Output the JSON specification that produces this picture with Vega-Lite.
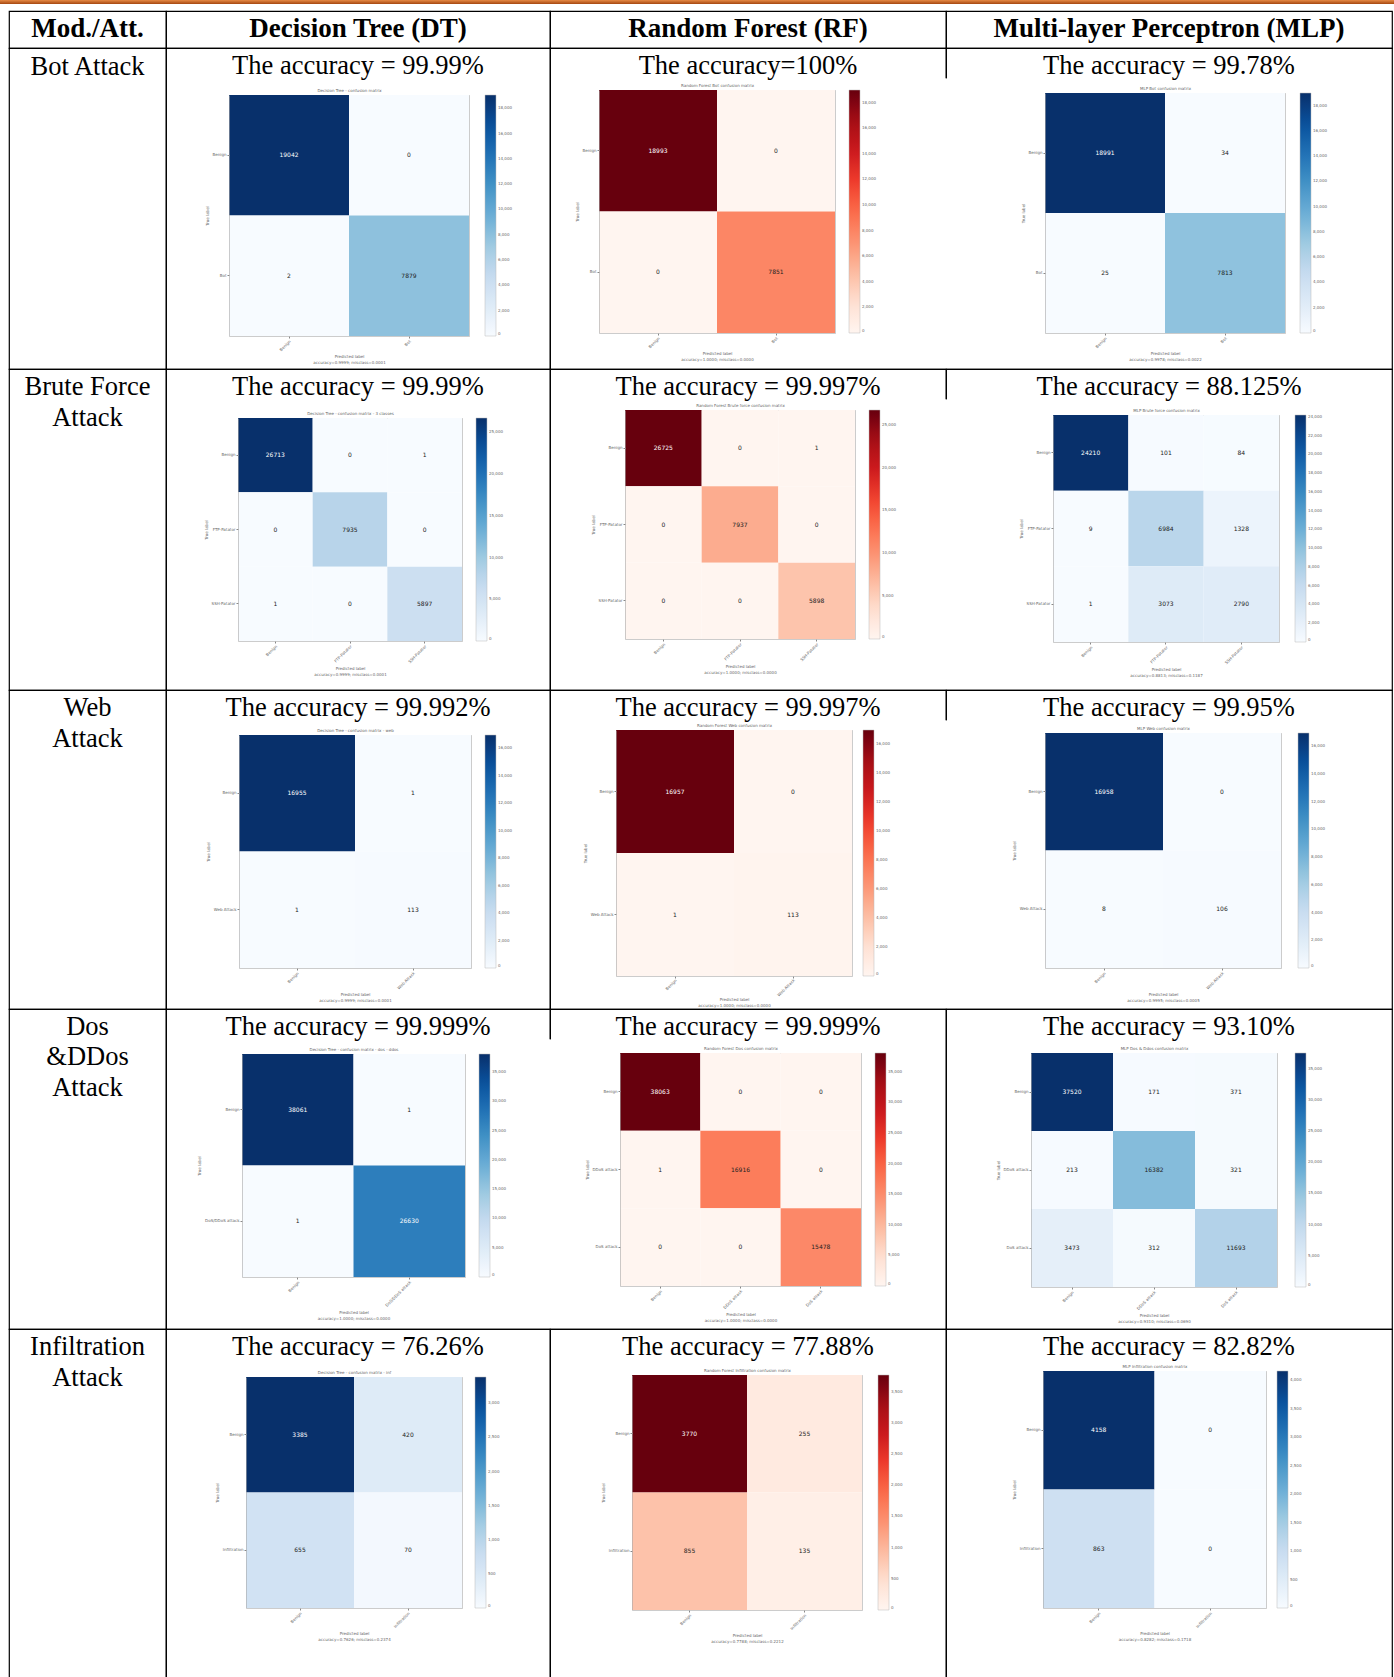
{
  "$schema": "https://vega.github.io/schema/vega-lite/v6.json",
  "padding": 0,
  "background": "white",
  "datasets": {
    "cm": [
      {"m":"DT","a":"bot","t":"Benign","p":"Benign","n":19042},
      {"m":"DT","a":"bot","t":"Benign","p":"Bot","n":0},
      {"m":"DT","a":"bot","t":"Bot","p":"Benign","n":2},
      {"m":"DT","a":"bot","t":"Bot","p":"Bot","n":7879},
      {"m":"RF","a":"bot","t":"Benign","p":"Benign","n":18993},
      {"m":"RF","a":"bot","t":"Benign","p":"Bot","n":0},
      {"m":"RF","a":"bot","t":"Bot","p":"Benign","n":0},
      {"m":"RF","a":"bot","t":"Bot","p":"Bot","n":7851},
      {"m":"MLP","a":"bot","t":"Benign","p":"Benign","n":18991},
      {"m":"MLP","a":"bot","t":"Benign","p":"Bot","n":34},
      {"m":"MLP","a":"bot","t":"Bot","p":"Benign","n":25},
      {"m":"MLP","a":"bot","t":"Bot","p":"Bot","n":7813},
      {"m":"DT","a":"brute","t":"Benign","p":"Benign","n":26713},
      {"m":"DT","a":"brute","t":"Benign","p":"FTP-Patator","n":0},
      {"m":"DT","a":"brute","t":"Benign","p":"SSH-Patator","n":1},
      {"m":"DT","a":"brute","t":"FTP-Patator","p":"Benign","n":0},
      {"m":"DT","a":"brute","t":"FTP-Patator","p":"FTP-Patator","n":7935},
      {"m":"DT","a":"brute","t":"FTP-Patator","p":"SSH-Patator","n":0},
      {"m":"DT","a":"brute","t":"SSH-Patator","p":"Benign","n":1},
      {"m":"DT","a":"brute","t":"SSH-Patator","p":"FTP-Patator","n":0},
      {"m":"DT","a":"brute","t":"SSH-Patator","p":"SSH-Patator","n":5897},
      {"m":"RF","a":"brute","t":"Benign","p":"Benign","n":26725},
      {"m":"RF","a":"brute","t":"Benign","p":"FTP-Patator","n":0},
      {"m":"RF","a":"brute","t":"Benign","p":"SSH-Patator","n":1},
      {"m":"RF","a":"brute","t":"FTP-Patator","p":"Benign","n":0},
      {"m":"RF","a":"brute","t":"FTP-Patator","p":"FTP-Patator","n":7937},
      {"m":"RF","a":"brute","t":"FTP-Patator","p":"SSH-Patator","n":0},
      {"m":"RF","a":"brute","t":"SSH-Patator","p":"Benign","n":0},
      {"m":"RF","a":"brute","t":"SSH-Patator","p":"FTP-Patator","n":0},
      {"m":"RF","a":"brute","t":"SSH-Patator","p":"SSH-Patator","n":5898},
      {"m":"MLP","a":"brute","t":"Benign","p":"Benign","n":24210},
      {"m":"MLP","a":"brute","t":"Benign","p":"FTP-Patator","n":101},
      {"m":"MLP","a":"brute","t":"Benign","p":"SSH-Patator","n":84},
      {"m":"MLP","a":"brute","t":"FTP-Patator","p":"Benign","n":9},
      {"m":"MLP","a":"brute","t":"FTP-Patator","p":"FTP-Patator","n":6984},
      {"m":"MLP","a":"brute","t":"FTP-Patator","p":"SSH-Patator","n":1328},
      {"m":"MLP","a":"brute","t":"SSH-Patator","p":"Benign","n":1},
      {"m":"MLP","a":"brute","t":"SSH-Patator","p":"FTP-Patator","n":3073},
      {"m":"MLP","a":"brute","t":"SSH-Patator","p":"SSH-Patator","n":2790},
      {"m":"DT","a":"web","t":"Benign","p":"Benign","n":16955},
      {"m":"DT","a":"web","t":"Benign","p":"Web Attack","n":1},
      {"m":"DT","a":"web","t":"Web Attack","p":"Benign","n":1},
      {"m":"DT","a":"web","t":"Web Attack","p":"Web Attack","n":113},
      {"m":"RF","a":"web","t":"Benign","p":"Benign","n":16957},
      {"m":"RF","a":"web","t":"Benign","p":"Web Attack","n":0},
      {"m":"RF","a":"web","t":"Web Attack","p":"Benign","n":1},
      {"m":"RF","a":"web","t":"Web Attack","p":"Web Attack","n":113},
      {"m":"MLP","a":"web","t":"Benign","p":"Benign","n":16958},
      {"m":"MLP","a":"web","t":"Benign","p":"Web Attack","n":0},
      {"m":"MLP","a":"web","t":"Web Attack","p":"Benign","n":8},
      {"m":"MLP","a":"web","t":"Web Attack","p":"Web Attack","n":106},
      {"m":"DT","a":"dos","t":"Benign","p":"Benign","n":38061},
      {"m":"DT","a":"dos","t":"Benign","p":"DoS/DDoS attack","n":1},
      {"m":"DT","a":"dos","t":"DoS/DDoS attack","p":"Benign","n":1},
      {"m":"DT","a":"dos","t":"DoS/DDoS attack","p":"DoS/DDoS attack","n":26630},
      {"m":"RF","a":"dos","t":"Benign","p":"Benign","n":38063},
      {"m":"RF","a":"dos","t":"Benign","p":"DDoS attack","n":0},
      {"m":"RF","a":"dos","t":"Benign","p":"DoS attack","n":0},
      {"m":"RF","a":"dos","t":"DDoS attack","p":"Benign","n":1},
      {"m":"RF","a":"dos","t":"DDoS attack","p":"DDoS attack","n":16916},
      {"m":"RF","a":"dos","t":"DDoS attack","p":"DoS attack","n":0},
      {"m":"RF","a":"dos","t":"DoS attack","p":"Benign","n":0},
      {"m":"RF","a":"dos","t":"DoS attack","p":"DDoS attack","n":0},
      {"m":"RF","a":"dos","t":"DoS attack","p":"DoS attack","n":15478},
      {"m":"MLP","a":"dos","t":"Benign","p":"Benign","n":37520},
      {"m":"MLP","a":"dos","t":"Benign","p":"DDoS attack","n":171},
      {"m":"MLP","a":"dos","t":"Benign","p":"DoS attack","n":371},
      {"m":"MLP","a":"dos","t":"DDoS attack","p":"Benign","n":213},
      {"m":"MLP","a":"dos","t":"DDoS attack","p":"DDoS attack","n":16382},
      {"m":"MLP","a":"dos","t":"DDoS attack","p":"DoS attack","n":321},
      {"m":"MLP","a":"dos","t":"DoS attack","p":"Benign","n":3473},
      {"m":"MLP","a":"dos","t":"DoS attack","p":"DDoS attack","n":312},
      {"m":"MLP","a":"dos","t":"DoS attack","p":"DoS attack","n":11693},
      {"m":"DT","a":"inf","t":"Benign","p":"Benign","n":3385},
      {"m":"DT","a":"inf","t":"Benign","p":"Infiltration","n":420},
      {"m":"DT","a":"inf","t":"Infiltration","p":"Benign","n":655},
      {"m":"DT","a":"inf","t":"Infiltration","p":"Infiltration","n":70},
      {"m":"RF","a":"inf","t":"Benign","p":"Benign","n":3770},
      {"m":"RF","a":"inf","t":"Benign","p":"Infiltration","n":255},
      {"m":"RF","a":"inf","t":"Infiltration","p":"Benign","n":855},
      {"m":"RF","a":"inf","t":"Infiltration","p":"Infiltration","n":135},
      {"m":"MLP","a":"inf","t":"Benign","p":"Benign","n":4158},
      {"m":"MLP","a":"inf","t":"Benign","p":"Infiltration","n":0},
      {"m":"MLP","a":"inf","t":"Infiltration","p":"Benign","n":863},
      {"m":"MLP","a":"inf","t":"Infiltration","p":"Infiltration","n":0}
    ]
  },
  "data": {"name": "cm"},
  "config": {
    "view": {"stroke": "black", "strokeWidth": 1.2},
    "title": {"font": "Liberation Serif", "fontSize": 26.5, "fontWeight": "normal", "color": "black", "anchor": "middle", "frame": "group", "offset": -31},
    "axis": {"labelFont": "DejaVu Sans", "labelFontSize": 4, "labelColor": "#666", "titleFont": "DejaVu Sans", "titleFontSize": 4, "titleColor": "#666", "titleFontWeight": "normal", "tickSize": 2, "tickColor": "#888", "domainColor": "#aaa", "domainWidth": 0.6, "labelPadding": 1, "titlePadding": 3, "grid": false, "labelLimit": 100},
    "axisX": {"labelAngle": -45},
    "legend": {"orient": "none", "direction": "vertical", "gradientThickness": 11, "labelFont": "DejaVu Sans", "labelFontSize": 4, "labelColor": "#666", "labelOffset": 3, "gradientStrokeColor": "#bbb", "gradientStrokeWidth": 0.5, "tickCount": 8, "padding": 0},
    "text": {"font": "DejaVu Sans", "fontSize": 6}
  },
  "spacing": 7,
  "bounds": "flush",
  "resolve": {"scale": {"color": "independent"}, "legend": {"color": "independent"}},
  "vconcat": [
    {
      "data": {"values": [{}]},
      "width": 1394, "height": 4,
      "view": {"stroke": null},
      "mark": {"type": "rect", "fill": {"gradient": "linear", "x1": 0, "y1": 0, "x2": 0, "y2": 1, "stops": [{"offset": 0, "color": "#E68A45"}, {"offset": 1, "color": "#A5470F"}]}}
    },
    {
      "spacing": 0,
      "bounds": "flush",
      "resolve": {"scale": {"color": "independent"}, "legend": {"color": "independent"}},
      "hconcat": [
        {"data": {"values": [{}]}, "width": 9, "height": 20, "view": {"stroke": null}, "mark": {"type": "rect", "opacity": 0}},
        {
          "columns": 4,
          "spacing": 0,
          "bounds": "flush",
          "align": "each",
          "resolve": {"scale": {"color": "independent"}, "legend": {"color": "independent"}},
          "concat": [
            {"data": {"values": [{}]}, "width": 157, "height": 37, "title": {"text": "Mod./Att.", "fontWeight": "bold", "fontSize": 27, "offset": -35},
             "layer": [{"mark": {"type": "rect", "opacity": 0}}, {"mark": {"type": "point", "opacity": 0}, "encoding": {"x": {"datum": 0, "type": "quantitative", "axis": null}, "y": {"datum": 0, "type": "quantitative", "axis": null}}}]},
            {"data": {"values": [{}]}, "width": 384, "height": 37, "title": {"text": "Decision Tree (DT)", "fontWeight": "bold", "fontSize": 27, "offset": -35},
             "layer": [{"mark": {"type": "rect", "opacity": 0}}, {"mark": {"type": "point", "opacity": 0}, "encoding": {"x": {"datum": 0, "type": "quantitative", "axis": null}, "y": {"datum": 0, "type": "quantitative", "axis": null}}}]},
            {"data": {"values": [{}]}, "width": 396, "height": 37, "title": {"text": "Random Forest (RF)", "fontWeight": "bold", "fontSize": 27, "offset": -35},
             "layer": [{"mark": {"type": "rect", "opacity": 0}}, {"mark": {"type": "point", "opacity": 0}, "encoding": {"x": {"datum": 0, "type": "quantitative", "axis": null}, "y": {"datum": 0, "type": "quantitative", "axis": null}}}]},
            {"data": {"values": [{}]}, "width": 446, "height": 37, "title": {"text": "Multi-layer Perceptron (MLP)", "fontWeight": "bold", "fontSize": 27, "offset": -35},
             "layer": [{"mark": {"type": "rect", "opacity": 0}}, {"mark": {"type": "point", "opacity": 0}, "encoding": {"x": {"datum": 0, "type": "quantitative", "axis": null}, "y": {"datum": 0, "type": "quantitative", "axis": null}}}]},

            {"data": {"values": [{}]}, "width": 157, "height": 321, "title": {"text": "Bot Attack", "offset": -35},
             "layer": [{"mark": {"type": "rect", "opacity": 0}}, {"mark": {"type": "point", "opacity": 0}, "encoding": {"x": {"datum": 0, "type": "quantitative", "axis": null}, "y": {"datum": 0, "type": "quantitative", "axis": null}}}]},
            {
              "width": 384, "height": 321,
              "title": {"text": "The accuracy = 99.99%"},
              "transform": [{"filter": "datum.a == 'bot' && datum.m == 'DT'"}],
              "layer": [
                {"data": {"values": [{}]}, "mark": {"type": "rect", "opacity": 0}},
                {"mark": "rect", "encoding": {
                  "x": {"field": "p", "type": "nominal", "sort": ["Benign", "Bot"], "scale": {"range": [63, 303], "paddingInner": 0, "paddingOuter": 0}, "axis": {"orient": "bottom", "offset": -33, "title": ["Predicted label", "accuracy=0.9999; misclass=0.0001"]}},
                  "y": {"field": "t", "type": "nominal", "sort": ["Benign", "Bot"], "scale": {"range": [47, 288], "paddingInner": 0, "paddingOuter": 0}, "axis": {"orient": "left", "offset": -63, "title": "True label"}},
                  "color": {"field": "n", "type": "quantitative", "scale": {"domain": [0, 2380, 4761, 7141, 9521, 11901, 14282, 16662, 19042], "range": ["#f7fbff","#deebf7","#c6dbef","#9ecae1","#6baed6","#4292c6","#2171b5","#08519c","#08306b"]}, "legend": {"title": null, "legendX": 319, "legendY": 47, "gradientLength": 241}}
                }},
                {"mark": "text", "encoding": {
                  "x": {"field": "p", "type": "nominal", "sort": ["Benign", "Bot"], "axis": {"orient": "top", "offset": -47, "labels": false, "ticks": false, "title": "Decision Tree - confusion matrix"}},
                  "y": {"field": "t", "type": "nominal", "sort": ["Benign", "Bot"], "axis": {"orient": "right", "offset": -81, "labels": false, "ticks": false, "title": null}},
                  "text": {"field": "n", "type": "quantitative", "format": "d"},
                  "color": {"condition": {"test": "datum.n > 9521", "value": "white"}, "value": "#222"}
                }}
              ]
            },
            {
              "width": 396, "height": 321,
              "view": {"strokeDash": [426, 291, 717]},
              "title": {"text": "The accuracy=100%"},
              "transform": [{"filter": "datum.a == 'bot' && datum.m == 'RF'"}],
              "layer": [
                {"data": {"values": [{}]}, "mark": {"type": "rect", "opacity": 0}},
                {"mark": "rect", "encoding": {
                  "x": {"field": "p", "type": "nominal", "sort": ["Benign", "Bot"], "scale": {"range": [49, 285], "paddingInner": 0, "paddingOuter": 0}, "axis": {"orient": "bottom", "offset": -36, "title": ["Predicted label", "accuracy=1.0000; misclass=0.0000"]}},
                  "y": {"field": "t", "type": "nominal", "sort": ["Benign", "Bot"], "scale": {"range": [42, 285], "paddingInner": 0, "paddingOuter": 0}, "axis": {"orient": "left", "offset": -49, "title": "True label"}},
                  "color": {"field": "n", "type": "quantitative", "scale": {"domain": [0, 2374, 4748, 7122, 9497, 11871, 14245, 16619, 18993], "range": ["#fff5f0","#fee0d2","#fcbba1","#fc9272","#fb6a4a","#ef3b2c","#cb181d","#a50f15","#67000d"]}, "legend": {"title": null, "legendX": 299, "legendY": 42, "gradientLength": 243}}
                }},
                {"mark": "text", "encoding": {
                  "x": {"field": "p", "type": "nominal", "sort": ["Benign", "Bot"], "axis": {"orient": "top", "offset": -42, "labels": false, "ticks": false, "title": "Random Forest Bot confusion matrix"}},
                  "y": {"field": "t", "type": "nominal", "sort": ["Benign", "Bot"], "axis": {"orient": "right", "offset": -111, "labels": false, "ticks": false, "title": null}},
                  "text": {"field": "n", "type": "quantitative", "format": "d"},
                  "color": {"condition": {"test": "datum.n > 9497", "value": "white"}, "value": "#222"}
                }}
              ]
            },
            {
              "width": 446, "height": 321,
              "view": {"strokeDash": [1213, 291, 30]},
              "title": {"text": "The accuracy = 99.78%"},
              "transform": [{"filter": "datum.a == 'bot' && datum.m == 'MLP'"}],
              "layer": [
                {"data": {"values": [{}]}, "mark": {"type": "rect", "opacity": 0}},
                {"mark": "rect", "encoding": {
                  "x": {"field": "p", "type": "nominal", "sort": ["Benign", "Bot"], "scale": {"range": [99, 339], "paddingInner": 0, "paddingOuter": 0}, "axis": {"orient": "bottom", "offset": -36, "title": ["Predicted label", "accuracy=0.9978; misclass=0.0022"]}},
                  "y": {"field": "t", "type": "nominal", "sort": ["Benign", "Bot"], "scale": {"range": [45, 285], "paddingInner": 0, "paddingOuter": 0}, "axis": {"orient": "left", "offset": -99, "title": "True label"}},
                  "color": {"field": "n", "type": "quantitative", "scale": {"domain": [0, 2374, 4748, 7122, 9496, 11869, 14243, 16617, 18991], "range": ["#f7fbff","#deebf7","#c6dbef","#9ecae1","#6baed6","#4292c6","#2171b5","#08519c","#08306b"]}, "legend": {"title": null, "legendX": 354, "legendY": 45, "gradientLength": 240}}
                }},
                {"mark": "text", "encoding": {
                  "x": {"field": "p", "type": "nominal", "sort": ["Benign", "Bot"], "axis": {"orient": "top", "offset": -45, "labels": false, "ticks": false, "title": "MLP Bot confusion matrix"}},
                  "y": {"field": "t", "type": "nominal", "sort": ["Benign", "Bot"], "axis": {"orient": "right", "offset": -107, "labels": false, "ticks": false, "title": null}},
                  "text": {"field": "n", "type": "quantitative", "format": "d"},
                  "color": {"condition": {"test": "datum.n > 9496", "value": "white"}, "value": "#222"}
                }}
              ]
            },

            {"data": {"values": [{}]}, "width": 157, "height": 321, "title": {"text": ["Brute Force", "Attack"], "lineHeight": 31, "offset": -65},
             "layer": [{"mark": {"type": "rect", "opacity": 0}}, {"mark": {"type": "point", "opacity": 0}, "encoding": {"x": {"datum": 0, "type": "quantitative", "axis": null}, "y": {"datum": 0, "type": "quantitative", "axis": null}}}]},
            {
              "width": 384, "height": 321,
              "title": {"text": "The accuracy = 99.99%"},
              "transform": [{"filter": "datum.a == 'brute' && datum.m == 'DT'"}],
              "layer": [
                {"data": {"values": [{}]}, "mark": {"type": "rect", "opacity": 0}},
                {"mark": "rect", "encoding": {
                  "x": {"field": "p", "type": "nominal", "sort": ["Benign", "FTP-Patator", "SSH-Patator"], "scale": {"range": [72, 296], "paddingInner": 0, "paddingOuter": 0}, "axis": {"orient": "bottom", "offset": -49, "title": ["Predicted label", "accuracy=0.9999; misclass=0.0001"]}},
                  "y": {"field": "t", "type": "nominal", "sort": ["Benign", "FTP-Patator", "SSH-Patator"], "scale": {"range": [49, 272], "paddingInner": 0, "paddingOuter": 0}, "axis": {"orient": "left", "offset": -72, "title": "True label"}},
                  "color": {"field": "n", "type": "quantitative", "scale": {"domain": [0, 3339, 6678, 10017, 13357, 16696, 20035, 23374, 26713], "range": ["#f7fbff","#deebf7","#c6dbef","#9ecae1","#6baed6","#4292c6","#2171b5","#08519c","#08306b"]}, "legend": {"title": null, "legendX": 310, "legendY": 49, "gradientLength": 223}}
                }},
                {"mark": "text", "encoding": {
                  "x": {"field": "p", "type": "nominal", "sort": ["Benign", "FTP-Patator", "SSH-Patator"], "axis": {"orient": "top", "offset": -49, "labels": false, "ticks": false, "title": "Decision Tree - confusion matrix - 3 classes"}},
                  "y": {"field": "t", "type": "nominal", "sort": ["Benign", "FTP-Patator", "SSH-Patator"], "axis": {"orient": "right", "offset": -88, "labels": false, "ticks": false, "title": null}},
                  "text": {"field": "n", "type": "quantitative", "format": "d"},
                  "color": {"condition": {"test": "datum.n > 13357", "value": "white"}, "value": "#222"}
                }}
              ]
            },
            {
              "width": 396, "height": 321,
              "view": {"strokeDash": [426, 291, 717]},
              "title": {"text": "The accuracy = 99.997%"},
              "transform": [{"filter": "datum.a == 'brute' && datum.m == 'RF'"}],
              "layer": [
                {"data": {"values": [{}]}, "mark": {"type": "rect", "opacity": 0}},
                {"mark": "rect", "encoding": {
                  "x": {"field": "p", "type": "nominal", "sort": ["Benign", "FTP-Patator", "SSH-Patator"], "scale": {"range": [75, 305], "paddingInner": 0, "paddingOuter": 0}, "axis": {"orient": "bottom", "offset": -51, "title": ["Predicted label", "accuracy=1.0000; misclass=0.0000"]}},
                  "y": {"field": "t", "type": "nominal", "sort": ["Benign", "FTP-Patator", "SSH-Patator"], "scale": {"range": [41, 270], "paddingInner": 0, "paddingOuter": 0}, "axis": {"orient": "left", "offset": -75, "title": "True label"}},
                  "color": {"field": "n", "type": "quantitative", "scale": {"domain": [0, 3341, 6681, 10022, 13363, 16703, 20044, 23384, 26725], "range": ["#fff5f0","#fee0d2","#fcbba1","#fc9272","#fb6a4a","#ef3b2c","#cb181d","#a50f15","#67000d"]}, "legend": {"title": null, "legendX": 319, "legendY": 41, "gradientLength": 229}}
                }},
                {"mark": "text", "encoding": {
                  "x": {"field": "p", "type": "nominal", "sort": ["Benign", "FTP-Patator", "SSH-Patator"], "axis": {"orient": "top", "offset": -41, "labels": false, "ticks": false, "title": "Random Forest Brute force confusion matrix"}},
                  "y": {"field": "t", "type": "nominal", "sort": ["Benign", "FTP-Patator", "SSH-Patator"], "axis": {"orient": "right", "offset": -91, "labels": false, "ticks": false, "title": null}},
                  "text": {"field": "n", "type": "quantitative", "format": "d"},
                  "color": {"condition": {"test": "datum.n > 13363", "value": "white"}, "value": "#222"}
                }}
              ]
            },
            {
              "width": 446, "height": 321,
              "view": {"strokeDash": [1213, 291, 30]},
              "title": {"text": "The accuracy = 88.125%"},
              "transform": [{"filter": "datum.a == 'brute' && datum.m == 'MLP'"}],
              "layer": [
                {"data": {"values": [{}]}, "mark": {"type": "rect", "opacity": 0}},
                {"mark": "rect", "encoding": {
                  "x": {"field": "p", "type": "nominal", "sort": ["Benign", "FTP-Patator", "SSH-Patator"], "scale": {"range": [107, 333], "paddingInner": 0, "paddingOuter": 0}, "axis": {"orient": "bottom", "offset": -48, "title": ["Predicted label", "accuracy=0.8813; misclass=0.1187"]}},
                  "y": {"field": "t", "type": "nominal", "sort": ["Benign", "FTP-Patator", "SSH-Patator"], "scale": {"range": [46, 273], "paddingInner": 0, "paddingOuter": 0}, "axis": {"orient": "left", "offset": -107, "title": "True label"}},
                  "color": {"field": "n", "type": "quantitative", "scale": {"domain": [0, 3026, 6053, 9079, 12105, 15131, 18158, 21184, 24210], "range": ["#f7fbff","#deebf7","#c6dbef","#9ecae1","#6baed6","#4292c6","#2171b5","#08519c","#08306b"]}, "legend": {"title": null, "legendX": 349, "legendY": 46, "gradientLength": 227}}
                }},
                {"mark": "text", "encoding": {
                  "x": {"field": "p", "type": "nominal", "sort": ["Benign", "FTP-Patator", "SSH-Patator"], "axis": {"orient": "top", "offset": -46, "labels": false, "ticks": false, "title": "MLP Brute force confusion matrix"}},
                  "y": {"field": "t", "type": "nominal", "sort": ["Benign", "FTP-Patator", "SSH-Patator"], "axis": {"orient": "right", "offset": -113, "labels": false, "ticks": false, "title": null}},
                  "text": {"field": "n", "type": "quantitative", "format": "d"},
                  "color": {"condition": {"test": "datum.n > 12105", "value": "white"}, "value": "#222"}
                }}
              ]
            },

            {"data": {"values": [{}]}, "width": 157, "height": 319, "title": {"text": ["Web", "Attack"], "lineHeight": 31, "offset": -65},
             "layer": [{"mark": {"type": "rect", "opacity": 0}}, {"mark": {"type": "point", "opacity": 0}, "encoding": {"x": {"datum": 0, "type": "quantitative", "axis": null}, "y": {"datum": 0, "type": "quantitative", "axis": null}}}]},
            {
              "width": 384, "height": 319,
              "title": {"text": "The accuracy = 99.992%"},
              "transform": [{"filter": "datum.a == 'web' && datum.m == 'DT'"}],
              "layer": [
                {"data": {"values": [{}]}, "mark": {"type": "rect", "opacity": 0}},
                {"mark": "rect", "encoding": {
                  "x": {"field": "p", "type": "nominal", "sort": ["Benign", "Web Attack"], "scale": {"range": [73, 305], "paddingInner": 0, "paddingOuter": 0}, "axis": {"orient": "bottom", "offset": -41, "title": ["Predicted label", "accuracy=0.9999; misclass=0.0001"]}},
                  "y": {"field": "t", "type": "nominal", "sort": ["Benign", "Web Attack"], "scale": {"range": [45, 278], "paddingInner": 0, "paddingOuter": 0}, "axis": {"orient": "left", "offset": -73, "title": "True label"}},
                  "color": {"field": "n", "type": "quantitative", "scale": {"domain": [0, 2119, 4239, 6358, 8478, 10597, 12716, 14836, 16955], "range": ["#f7fbff","#deebf7","#c6dbef","#9ecae1","#6baed6","#4292c6","#2171b5","#08519c","#08306b"]}, "legend": {"title": null, "legendX": 319, "legendY": 45, "gradientLength": 233}}
                }},
                {"mark": "text", "encoding": {
                  "x": {"field": "p", "type": "nominal", "sort": ["Benign", "Web Attack"], "axis": {"orient": "top", "offset": -45, "labels": false, "ticks": false, "title": "Decision Tree - confusion matrix - web"}},
                  "y": {"field": "t", "type": "nominal", "sort": ["Benign", "Web Attack"], "axis": {"orient": "right", "offset": -79, "labels": false, "ticks": false, "title": null}},
                  "text": {"field": "n", "type": "quantitative", "format": "d"},
                  "color": {"condition": {"test": "datum.n > 8478", "value": "white"}, "value": "#222"}
                }}
              ]
            },
            {
              "width": 396, "height": 319,
              "view": {"strokeDash": [426, 289, 715]},
              "title": {"text": "The accuracy = 99.997%"},
              "transform": [{"filter": "datum.a == 'web' && datum.m == 'RF'"}],
              "layer": [
                {"data": {"values": [{}]}, "mark": {"type": "rect", "opacity": 0}},
                {"mark": "rect", "encoding": {
                  "x": {"field": "p", "type": "nominal", "sort": ["Benign", "Web Attack"], "scale": {"range": [66, 302], "paddingInner": 0, "paddingOuter": 0}, "axis": {"orient": "bottom", "offset": -33, "titlePadding": 1, "labelPadding": 0, "title": ["Predicted label", "accuracy=1.0000; misclass=0.0000"]}},
                  "y": {"field": "t", "type": "nominal", "sort": ["Benign", "Web Attack"], "scale": {"range": [40, 286], "paddingInner": 0, "paddingOuter": 0}, "axis": {"orient": "left", "offset": -66, "title": "True label"}},
                  "color": {"field": "n", "type": "quantitative", "scale": {"domain": [0, 2120, 4239, 6359, 8479, 10598, 12718, 14837, 16957], "range": ["#fff5f0","#fee0d2","#fcbba1","#fc9272","#fb6a4a","#ef3b2c","#cb181d","#a50f15","#67000d"]}, "legend": {"title": null, "legendX": 313, "legendY": 40, "gradientLength": 246}}
                }},
                {"mark": "text", "encoding": {
                  "x": {"field": "p", "type": "nominal", "sort": ["Benign", "Web Attack"], "axis": {"orient": "top", "offset": -40, "labels": false, "ticks": false, "title": "Random Forest Web confusion matrix"}},
                  "y": {"field": "t", "type": "nominal", "sort": ["Benign", "Web Attack"], "axis": {"orient": "right", "offset": -94, "labels": false, "ticks": false, "title": null}},
                  "text": {"field": "n", "type": "quantitative", "format": "d"},
                  "color": {"condition": {"test": "datum.n > 8479", "value": "white"}, "value": "#222"}
                }}
              ]
            },
            {
              "width": 446, "height": 319,
              "view": {"strokeDash": [1211, 289, 30]},
              "title": {"text": "The accuracy = 99.95%"},
              "transform": [{"filter": "datum.a == 'web' && datum.m == 'MLP'"}],
              "layer": [
                {"data": {"values": [{}]}, "mark": {"type": "rect", "opacity": 0}},
                {"mark": "rect", "encoding": {
                  "x": {"field": "p", "type": "nominal", "sort": ["Benign", "Web Attack"], "scale": {"range": [99, 335], "paddingInner": 0, "paddingOuter": 0}, "axis": {"orient": "bottom", "offset": -41, "title": ["Predicted label", "accuracy=0.9995; misclass=0.0005"]}},
                  "y": {"field": "t", "type": "nominal", "sort": ["Benign", "Web Attack"], "scale": {"range": [43, 278], "paddingInner": 0, "paddingOuter": 0}, "axis": {"orient": "left", "offset": -99, "title": "True label"}},
                  "color": {"field": "n", "type": "quantitative", "scale": {"domain": [0, 2120, 4240, 6359, 8479, 10599, 12719, 14838, 16958], "range": ["#f7fbff","#deebf7","#c6dbef","#9ecae1","#6baed6","#4292c6","#2171b5","#08519c","#08306b"]}, "legend": {"title": null, "legendX": 352, "legendY": 43, "gradientLength": 235}}
                }},
                {"mark": "text", "encoding": {
                  "x": {"field": "p", "type": "nominal", "sort": ["Benign", "Web Attack"], "axis": {"orient": "top", "offset": -43, "labels": false, "ticks": false, "title": "MLP Web confusion matrix"}},
                  "y": {"field": "t", "type": "nominal", "sort": ["Benign", "Web Attack"], "axis": {"orient": "right", "offset": -111, "labels": false, "ticks": false, "title": null}},
                  "text": {"field": "n", "type": "quantitative", "format": "d"},
                  "color": {"condition": {"test": "datum.n > 8479", "value": "white"}, "value": "#222"}
                }}
              ]
            },

            {"data": {"values": [{}]}, "width": 157, "height": 320, "title": {"text": ["Dos", "&DDos", "Attack"], "lineHeight": 30.5, "offset": -95},
             "layer": [{"mark": {"type": "rect", "opacity": 0}}, {"mark": {"type": "point", "opacity": 0}, "encoding": {"x": {"datum": 0, "type": "quantitative", "axis": null}, "y": {"datum": 0, "type": "quantitative", "axis": null}}}]},
            {
              "width": 384, "height": 320,
              "view": {"strokeDash": [414, 290, 704]},
              "title": {"text": "The accuracy = 99.999%"},
              "transform": [{"filter": "datum.a == 'dos' && datum.m == 'DT'"}],
              "layer": [
                {"data": {"values": [{}]}, "mark": {"type": "rect", "opacity": 0}},
                {"mark": "rect", "encoding": {
                  "x": {"field": "p", "type": "nominal", "sort": ["Benign", "DoS/DDoS attack"], "scale": {"range": [76, 299], "paddingInner": 0, "paddingOuter": 0}, "axis": {"orient": "bottom", "offset": -52, "title": ["Predicted label", "accuracy=1.0000; misclass=0.0000"]}},
                  "y": {"field": "t", "type": "nominal", "sort": ["Benign", "DoS/DDoS attack"], "scale": {"range": [45, 268], "paddingInner": 0, "paddingOuter": 0}, "axis": {"orient": "left", "offset": -76, "title": "True label"}},
                  "color": {"field": "n", "type": "quantitative", "scale": {"domain": [0, 4758, 9515, 14273, 19031, 23788, 28546, 33303, 38061], "range": ["#f7fbff","#deebf7","#c6dbef","#9ecae1","#6baed6","#4292c6","#2171b5","#08519c","#08306b"]}, "legend": {"title": null, "legendX": 313, "legendY": 45, "gradientLength": 223}}
                }},
                {"mark": "text", "encoding": {
                  "x": {"field": "p", "type": "nominal", "sort": ["Benign", "DoS/DDoS attack"], "axis": {"orient": "top", "offset": -45, "labels": false, "ticks": false, "title": "Decision Tree - confusion matrix - dos - ddos"}},
                  "y": {"field": "t", "type": "nominal", "sort": ["Benign", "DoS/DDoS attack"], "axis": {"orient": "right", "offset": -85, "labels": false, "ticks": false, "title": null}},
                  "text": {"field": "n", "type": "quantitative", "format": "d"},
                  "color": {"condition": {"test": "datum.n > 19031", "value": "white"}, "value": "#222"}
                }}
              ]
            },
            {
              "width": 396, "height": 320,
              "view": {"strokeDash": [1112, 290, 30]},
              "title": {"text": "The accuracy = 99.999%"},
              "transform": [{"filter": "datum.a == 'dos' && datum.m == 'RF'"}],
              "layer": [
                {"data": {"values": [{}]}, "mark": {"type": "rect", "opacity": 0}},
                {"mark": "rect", "encoding": {
                  "x": {"field": "p", "type": "nominal", "sort": ["Benign", "DDoS attack", "DoS attack"], "scale": {"range": [70, 311], "paddingInner": 0, "paddingOuter": 0}, "axis": {"orient": "bottom", "offset": -43, "title": ["Predicted label", "accuracy=1.0000; misclass=0.0000"]}},
                  "y": {"field": "t", "type": "nominal", "sort": ["Benign", "DDoS attack", "DoS attack"], "scale": {"range": [44, 277], "paddingInner": 0, "paddingOuter": 0}, "axis": {"orient": "left", "offset": -70, "title": "True label"}},
                  "color": {"field": "n", "type": "quantitative", "scale": {"domain": [0, 4758, 9516, 14274, 19032, 23789, 28547, 33305, 38063], "range": ["#fff5f0","#fee0d2","#fcbba1","#fc9272","#fb6a4a","#ef3b2c","#cb181d","#a50f15","#67000d"]}, "legend": {"title": null, "legendX": 325, "legendY": 44, "gradientLength": 233}}
                }},
                {"mark": "text", "encoding": {
                  "x": {"field": "p", "type": "nominal", "sort": ["Benign", "DDoS attack", "DoS attack"], "axis": {"orient": "top", "offset": -44, "labels": false, "ticks": false, "title": "Random Forest Dos confusion matrix"}},
                  "y": {"field": "t", "type": "nominal", "sort": ["Benign", "DDoS attack", "DoS attack"], "axis": {"orient": "right", "offset": -85, "labels": false, "ticks": false, "title": null}},
                  "text": {"field": "n", "type": "quantitative", "format": "d"},
                  "color": {"condition": {"test": "datum.n > 19032", "value": "white"}, "value": "#222"}
                }}
              ]
            },
            {
              "width": 446, "height": 320,
              "title": {"text": "The accuracy = 93.10%"},
              "transform": [{"filter": "datum.a == 'dos' && datum.m == 'MLP'"}],
              "layer": [
                {"data": {"values": [{}]}, "mark": {"type": "rect", "opacity": 0}},
                {"mark": "rect", "encoding": {
                  "x": {"field": "p", "type": "nominal", "sort": ["Benign", "DDoS attack", "DoS attack"], "scale": {"range": [85, 331], "paddingInner": 0, "paddingOuter": 0}, "axis": {"orient": "bottom", "offset": -42, "title": ["Predicted label", "accuracy=0.9310; misclass=0.0690"]}},
                  "y": {"field": "t", "type": "nominal", "sort": ["Benign", "DDoS attack", "DoS attack"], "scale": {"range": [44, 278], "paddingInner": 0, "paddingOuter": 0}, "axis": {"orient": "left", "offset": -85, "title": "True label"}},
                  "color": {"field": "n", "type": "quantitative", "scale": {"domain": [0, 4690, 9380, 14070, 18760, 23450, 28140, 32830, 37520], "range": ["#f7fbff","#deebf7","#c6dbef","#9ecae1","#6baed6","#4292c6","#2171b5","#08519c","#08306b"]}, "legend": {"title": null, "legendX": 349, "legendY": 44, "gradientLength": 234}}
                }},
                {"mark": "text", "encoding": {
                  "x": {"field": "p", "type": "nominal", "sort": ["Benign", "DDoS attack", "DoS attack"], "axis": {"orient": "top", "offset": -44, "labels": false, "ticks": false, "title": "MLP Dos & Ddos confusion matrix"}},
                  "y": {"field": "t", "type": "nominal", "sort": ["Benign", "DDoS attack", "DoS attack"], "axis": {"orient": "right", "offset": -115, "labels": false, "ticks": false, "title": null}},
                  "text": {"field": "n", "type": "quantitative", "format": "d"},
                  "color": {"condition": {"test": "datum.n > 18760", "value": "white"}, "value": "#222"}
                }}
              ]
            },

            {"data": {"values": [{}]}, "width": 157, "height": 350, "title": {"text": ["Infiltration", "Attack"], "lineHeight": 31, "offset": -65},
             "layer": [{"mark": {"type": "rect", "opacity": 0}}, {"mark": {"type": "point", "opacity": 0}, "encoding": {"x": {"datum": 0, "type": "quantitative", "axis": null}, "y": {"datum": 0, "type": "quantitative", "axis": null}}}]},
            {
              "width": 384, "height": 350,
              "title": {"text": "The accuracy = 76.26%"},
              "transform": [{"filter": "datum.a == 'inf' && datum.m == 'DT'"}],
              "layer": [
                {"data": {"values": [{}]}, "mark": {"type": "rect", "opacity": 0}},
                {"mark": "rect", "encoding": {
                  "x": {"field": "p", "type": "nominal", "sort": ["Benign", "Infiltration"], "scale": {"range": [80, 296], "paddingInner": 0, "paddingOuter": 0}, "axis": {"orient": "bottom", "offset": -71, "title": ["Predicted label", "accuracy=0.7626; misclass=0.2374"]}},
                  "y": {"field": "t", "type": "nominal", "sort": ["Benign", "Infiltration"], "scale": {"range": [48, 279], "paddingInner": 0, "paddingOuter": 0}, "axis": {"orient": "left", "offset": -80, "title": "True label"}},
                  "color": {"field": "n", "type": "quantitative", "scale": {"domain": [0, 423, 846, 1269, 1693, 2116, 2539, 2962, 3385], "range": ["#f7fbff","#deebf7","#c6dbef","#9ecae1","#6baed6","#4292c6","#2171b5","#08519c","#08306b"]}, "legend": {"title": null, "legendX": 309, "legendY": 48, "gradientLength": 231}}
                }},
                {"mark": "text", "encoding": {
                  "x": {"field": "p", "type": "nominal", "sort": ["Benign", "Infiltration"], "axis": {"orient": "top", "offset": -48, "labels": false, "ticks": false, "title": "Decision Tree - confusion matrix - inf"}},
                  "y": {"field": "t", "type": "nominal", "sort": ["Benign", "Infiltration"], "axis": {"orient": "right", "offset": -88, "labels": false, "ticks": false, "title": null}},
                  "text": {"field": "n", "type": "quantitative", "format": "d"},
                  "color": {"condition": {"test": "datum.n > 1693", "value": "white"}, "value": "#222"}
                }}
              ]
            },
            {
              "width": 396, "height": 350,
              "title": {"text": "The accuracy = 77.88%"},
              "transform": [{"filter": "datum.a == 'inf' && datum.m == 'RF'"}],
              "layer": [
                {"data": {"values": [{}]}, "mark": {"type": "rect", "opacity": 0}},
                {"mark": "rect", "encoding": {
                  "x": {"field": "p", "type": "nominal", "sort": ["Benign", "Infiltration"], "scale": {"range": [82, 312], "paddingInner": 0, "paddingOuter": 0}, "axis": {"orient": "bottom", "offset": -69, "title": ["Predicted label", "accuracy=0.7788; misclass=0.2212"]}},
                  "y": {"field": "t", "type": "nominal", "sort": ["Benign", "Infiltration"], "scale": {"range": [46, 281], "paddingInner": 0, "paddingOuter": 0}, "axis": {"orient": "left", "offset": -82, "title": "True label"}},
                  "color": {"field": "n", "type": "quantitative", "scale": {"domain": [0, 471, 943, 1414, 1885, 2356, 2828, 3299, 3770], "range": ["#fff5f0","#fee0d2","#fcbba1","#fc9272","#fb6a4a","#ef3b2c","#cb181d","#a50f15","#67000d"]}, "legend": {"title": null, "legendX": 328, "legendY": 46, "gradientLength": 235}}
                }},
                {"mark": "text", "encoding": {
                  "x": {"field": "p", "type": "nominal", "sort": ["Benign", "Infiltration"], "axis": {"orient": "top", "offset": -46, "labels": false, "ticks": false, "title": "Random Forest Infiltration confusion matrix"}},
                  "y": {"field": "t", "type": "nominal", "sort": ["Benign", "Infiltration"], "axis": {"orient": "right", "offset": -84, "labels": false, "ticks": false, "title": null}},
                  "text": {"field": "n", "type": "quantitative", "format": "d"},
                  "color": {"condition": {"test": "datum.n > 1885", "value": "white"}, "value": "#222"}
                }}
              ]
            },
            {
              "width": 446, "height": 350,
              "title": {"text": "The accuracy = 82.82%"},
              "transform": [{"filter": "datum.a == 'inf' && datum.m == 'MLP'"}],
              "layer": [
                {"data": {"values": [{}]}, "mark": {"type": "rect", "opacity": 0}},
                {"mark": "rect", "encoding": {
                  "x": {"field": "p", "type": "nominal", "sort": ["Benign", "Infiltration"], "scale": {"range": [97, 320], "paddingInner": 0, "paddingOuter": 0}, "axis": {"orient": "bottom", "offset": -71, "title": ["Predicted label", "accuracy=0.8282; misclass=0.1718"]}},
                  "y": {"field": "t", "type": "nominal", "sort": ["Benign", "Infiltration"], "scale": {"range": [42, 279], "paddingInner": 0, "paddingOuter": 0}, "axis": {"orient": "left", "offset": -97, "title": "True label"}},
                  "color": {"field": "n", "type": "quantitative", "scale": {"domain": [0, 520, 1040, 1559, 2079, 2599, 3119, 3638, 4158], "range": ["#f7fbff","#deebf7","#c6dbef","#9ecae1","#6baed6","#4292c6","#2171b5","#08519c","#08306b"]}, "legend": {"title": null, "legendX": 331, "legendY": 42, "gradientLength": 237}}
                }},
                {"mark": "text", "encoding": {
                  "x": {"field": "p", "type": "nominal", "sort": ["Benign", "Infiltration"], "axis": {"orient": "top", "offset": -42, "labels": false, "ticks": false, "title": "MLP Infiltration confusion matrix"}},
                  "y": {"field": "t", "type": "nominal", "sort": ["Benign", "Infiltration"], "axis": {"orient": "right", "offset": -126, "labels": false, "ticks": false, "title": null}},
                  "text": {"field": "n", "type": "quantitative", "format": "d"},
                  "color": {"condition": {"test": "datum.n > 2079", "value": "white"}, "value": "#222"}
                }}
              ]
            }
          ]
        }
      ]
    }
  ]
}
